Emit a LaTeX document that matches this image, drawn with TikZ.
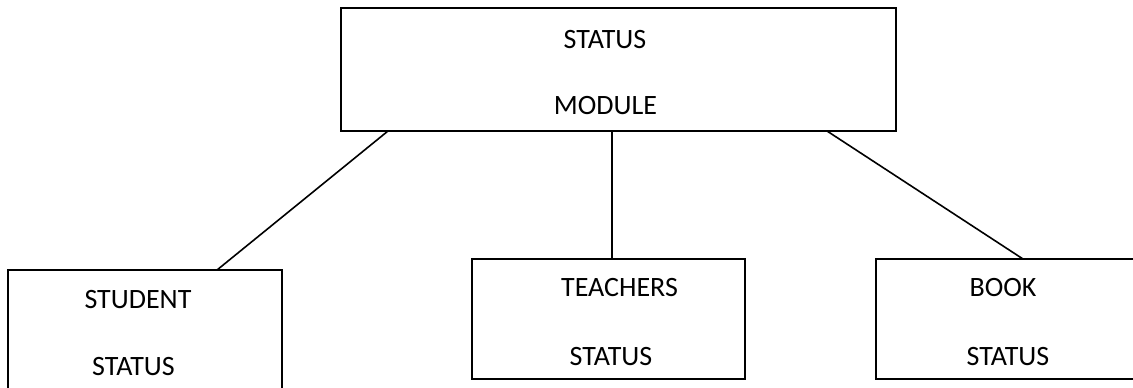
\documentclass[tikz,border=0pt]{standalone}
\usepackage{fontspec}
\setmainfont{Carlito}
\usetikzlibrary{calc}
\begin{document}
\begin{tikzpicture}[x=1pt,y=-1pt,
  box/.style={draw=black,line width=1.7pt,rectangle},
  lbl/.style={inner sep=0pt,font=\fontsize{28}{32}\selectfont},
  link/.style={draw=black,line width=1.6pt}]
\clip (0,0) rectangle (1133,388);
\fill[white] (0,0) rectangle (1133,388);
% boxes
\draw[box] (341,8) rectangle (896,131);
\draw[box] (8,270) rectangle (282,400);
\draw[box] (472,259) rectangle (745,379);
\draw[box] (876,259) rectangle (1145,379);
% attachment points on the boxes
\coordinate (mL) at (388,131);
\coordinate (mC) at (612,131);
\coordinate (mR) at (827,131);
\coordinate (sT) at (217,270);
\coordinate (tT) at (612,259);
\coordinate (bT) at (1023,259);
% labels
\node[lbl] (m1) at (605,40) {STATUS};
\node[lbl] (m2) at (605.5,106) {MODULE};
\node[lbl] (s1) at (138,300) {STUDENT};
\node[lbl] (s2) at (133.5,367) {STATUS};
\node[lbl] (t1) at (619.5,288) {TEACHERS};
\node[lbl] (t2) at (611,357) {STATUS};
\node[lbl] (b1) at (1003,288) {BOOK};
\node[lbl] (b2) at (1008,357) {STATUS};
% connectors
\draw[link] (mL) -- (sT);
\draw[link] (mC) -- (tT);
\draw[link] (mR) -- (bT);
\end{tikzpicture}
\end{document}
